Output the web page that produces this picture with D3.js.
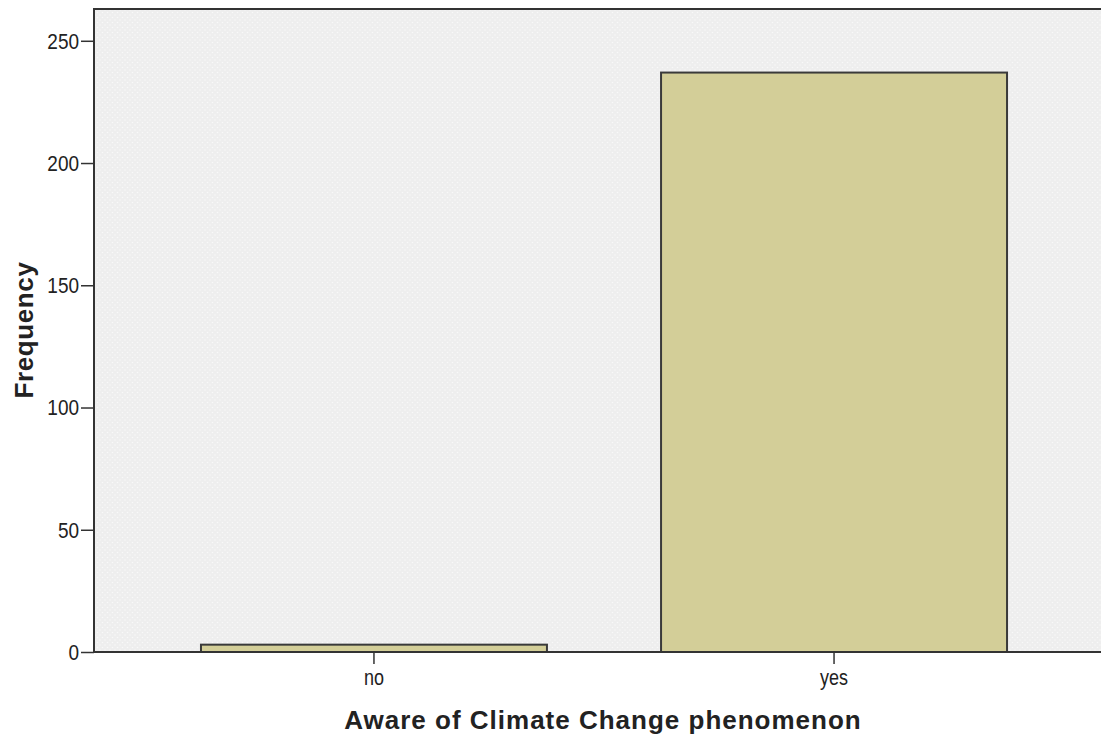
<!DOCTYPE html>
<html>
<head>
<meta charset="utf-8">
<script src="https://cdn.jsdelivr.net/npm/d3@7"></script>
<style>
  body { margin: 0; background: #fff; }
  text { font-family: "Liberation Sans", Arial, sans-serif; fill: #222; }
</style>
</head>
<body>
<div id="chart"></div>
<script>
var categories = ["no", "yes"];
var counts = [3, 237];
var yTicks = [0, 50, 100, 150, 200, 250];

var margin = { top: 9, right: -13, bottom: 89, left: 94 },
  width = 1101 - margin.left - margin.right,
  height = 741 - margin.top - margin.bottom;

var svg = d3.select("#chart")
  .append("svg")
  .attr("width", 1101)
  .attr("height", 741);

var defs = svg.append("defs");
var pat = defs.append("pattern")
  .attr("id", "dots")
  .attr("width", 5)
  .attr("height", 5)
  .attr("patternUnits", "userSpaceOnUse");
pat.append("rect").attr("width", 5).attr("height", 5).attr("fill", "#eeeeee");
pat.append("circle").attr("cx", 1).attr("cy", 1).attr("r", 0.8).attr("fill", "#f9f9f9");
pat.append("circle").attr("cx", 3.5).attr("cy", 3.5).attr("r", 0.8).attr("fill", "#f9f9f9");

var g = svg.append("g")
  .attr("transform", "translate(" + margin.left + "," + margin.top + ")");

var x = d3.scaleBand()
  .domain(categories)
  .range([0, width])
  .paddingInner(0.248)
  .paddingOuter(0.2325);

var y = d3.scaleLinear()
  .domain([0, 263])
  .range([height, 0]);

// plot background
g.append("rect")
  .attr("width", width)
  .attr("height", height)
  .attr("fill", "url(#dots)");

// bars
g.selectAll(".bar")
  .data(counts)
  .enter()
  .append("rect")
  .attr("class", "bar")
  .attr("x", function(d, i) { return x(categories[i]); })
  .attr("y", function(d) { return y(d); })
  .attr("width", x.bandwidth())
  .attr("height", function(d) { return height - y(d); })
  .attr("fill", "#d3ce98")
  .attr("stroke", "#3a3a3a")
  .attr("stroke-width", 2);

// frame (top, left, bottom)
g.append("path")
  .attr("d", "M" + (width + 20) + ",0H0V" + height + "H" + (width + 20))
  .attr("fill", "none")
  .attr("stroke", "#333")
  .attr("stroke-width", 2);

// y axis
var yAxis = g.append("g")
  .call(d3.axisLeft(y).tickValues(yTicks).tickSize(13).tickPadding(2));
yAxis.select(".domain").remove();
yAxis.selectAll("line").attr("stroke", "#333").attr("stroke-width", 1.5);
yAxis.selectAll("text")
  .style("font-size", "19px")
  .attr("transform", "scale(1,1.2)")
  .attr("fill", "#222");

// x axis
var xAxis = g.append("g")
  .attr("transform", "translate(0," + height + ")")
  .call(d3.axisBottom(x).tickSize(12).tickPadding(3));
xAxis.select(".domain").remove();
xAxis.selectAll("line").attr("stroke", "#333").attr("stroke-width", 1.5);
xAxis.selectAll("text")
  .style("font-size", "18px")
  .attr("transform", "scale(1,1.2)")
  .attr("fill", "#222");

// axis titles
svg.append("text")
  .attr("x", 603)
  .attr("y", 729)
  .attr("text-anchor", "middle")
  .style("font-size", "26px")
  .style("font-weight", "bold")
  .style("letter-spacing", "1px")
  .text("Aware of Climate Change phenomenon");

svg.append("text")
  .attr("transform", "translate(33,330) rotate(-90)")
  .attr("text-anchor", "middle")
  .style("font-size", "26px")
  .style("font-weight", "bold")
  .style("letter-spacing", "0.6px")
  .text("Frequency");
</script>
</body>
</html>
